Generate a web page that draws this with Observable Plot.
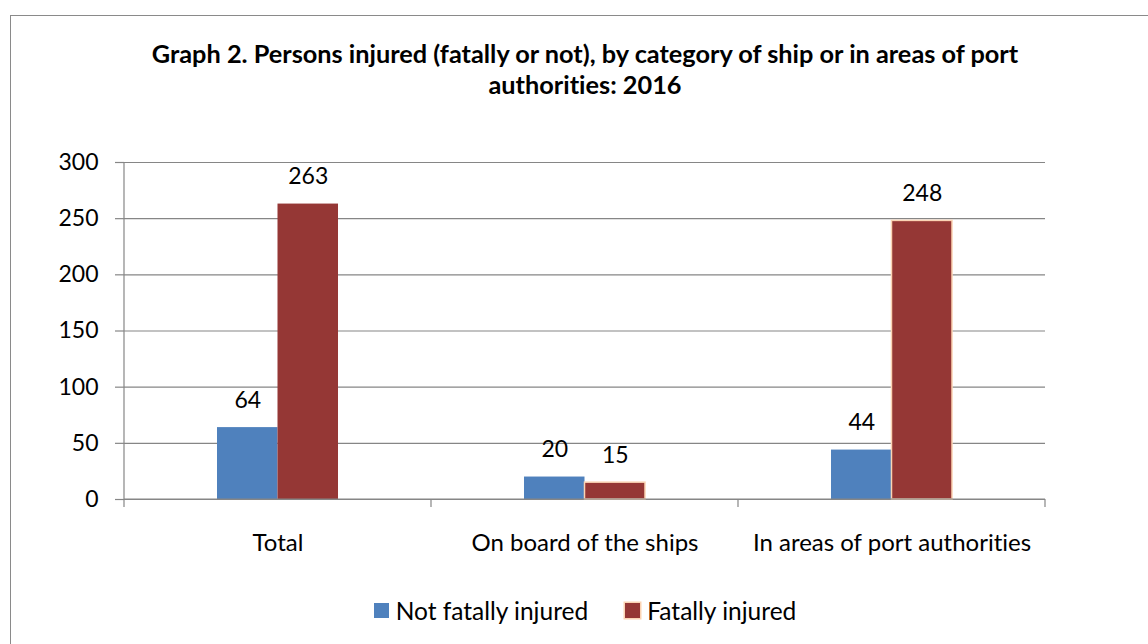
<!DOCTYPE html>
<html>
<head>
<meta charset="utf-8">
<script src="https://cdn.jsdelivr.net/npm/d3@7"></script>
<script src="https://cdn.jsdelivr.net/npm/@observablehq/plot@0.6"></script>
<style>
  html, body { margin: 0; padding: 0; background: #fff; }
  body { width: 1148px; height: 644px; overflow: hidden; position: relative; font-family: Lato, "Open Sans", sans-serif; color: #000; font-variant-ligatures: none; }
  #frame { position: absolute; left: 10px; top: 15px; width: 1200px; height: 700px; border: 1.5px solid #8a8a8a; box-sizing: border-box; }
  #title { position: absolute; left: 10px; width: 1150px; top: 38px; text-align: center; font-weight: bold; font-size: 25.3px; line-height: 31px; }
  #chart { position: absolute; left: 0; top: 120px; }
  #chart svg { font-variant-ligatures: none; }
  #legend { position: absolute; left: 10px; width: 1150px; top: 596px; display: flex; justify-content: center; align-items: center; font-size: 24.5px; }
  .item { display: flex; align-items: center; }
  .sw { width: 15px; height: 15px; margin-right: 7px; box-sizing: border-box; }
</style>
</head>
<body>
<div id="frame"></div>
<div id="title">Graph 2. Persons injured (fatally or not), by category of ship or in areas of port<br>authorities: 2016</div>
<div id="chart"></div>
<div id="legend"></div>
<script>
const categories = ["Total", "On board of the ships", "In areas of port authorities"];
const series = ["Not fatally injured", "Fatally injured"];
const notFatal = [64, 20, 44];
const fatal = [263, 15, 248];
const yTicks = [0, 50, 100, 150, 200, 250, 300];
const colors = ["#4F81BD", "#953735"];
const outline = "#FBD4B4";

const data = categories.flatMap((c, i) => [
  {category: c, series: series[0], value: notFatal[i]},
  {category: c, series: series[1], value: fatal[i]}
]);

const axisColor = "#868686";

const skeleton = Plot.frame({
  facet: "super",
  stroke: "none",
  render: (index, scales, values, dims) => {
    const y = scales.y;
    let edges;
    if (scales.fx) {
      const fx = scales.fx;
      edges = categories.map(c => fx(c));
      edges.push(fx(categories[categories.length - 1]) + fx.bandwidth());
    } else {
      const w = (dims.width - dims.marginLeft - dims.marginRight) / categories.length;
      edges = d3.range(categories.length + 1).map(i => dims.marginLeft + i * w);
    }
    const y0 = y ? y(0) : dims.height - dims.marginBottom;
    const y1 = y ? y(yTicks[yTicks.length - 1]) : dims.marginTop;
    const g = d3.create("svg:g").attr("stroke", axisColor).attr("stroke-width", 1.2).attr("fill", "none");
    g.append("line").attr("x1", edges[0]).attr("x2", edges[0]).attr("y1", y1).attr("y2", y0 + 8);
    g.append("line").attr("x1", edges[0]).attr("x2", edges[edges.length - 1]).attr("y1", y0).attr("y2", y0);
    for (const e of edges.slice(1)) {
      g.append("line").attr("x1", e).attr("x2", e).attr("y1", y0).attr("y2", y0 + 8);
    }
    return g.node();
  }
});

const chart = Plot.plot({
  width: 1148,
  height: 460,
  marginTop: 42,
  marginBottom: 81,
  marginLeft: 124,
  marginRight: 103,
  style: {fontFamily: "Lato, 'Open Sans', sans-serif", fontSize: "23px", color: "#000", background: "transparent", overflow: "visible"},
  fx: {domain: categories, paddingInner: 0, paddingOuter: 0, round: false, axis: null, label: null},
  x: {domain: series, paddingInner: 0, paddingOuter: 1.537, round: false, axis: null},
  y: {domain: [0, 300], label: null, axis: null},
  color: {domain: series, range: colors},
  marks: [
    Plot.gridY(yTicks, {stroke: axisColor, strokeOpacity: 1, strokeWidth: 1.2}),
    Plot.axisY(yTicks, {tickSize: 9, tickPadding: 17, stroke: axisColor, strokeWidth: 1.2, fontSize: 23, label: null, textStroke: "none"}),
    Plot.barY(data, {
      fx: "category", x: "series", y: "value", fill: "series",
      stroke: d => (d.series === series[1] && d.category !== categories[0]) ? outline : "none",
      strokeWidth: 1.5
    }),
    skeleton,
    Plot.text(data, {fx: "category", x: "series", y: "value", text: d => String(d.value), dy: -27, lineAnchor: "middle", fontSize: 23, fill: "#000"}),
    Plot.text(categories, {fx: d => d, text: d => d, frameAnchor: "bottom", dy: 44, lineAnchor: "middle", fontSize: 24, fill: "#000"})
  ]
});
document.getElementById("chart").appendChild(chart);

const legend = document.getElementById("legend");
series.forEach((s, i) => {
  const item = document.createElement("div");
  item.className = "item";
  if (i > 0) item.style.marginLeft = "37px";
  const sw = document.createElement("div");
  sw.className = "sw";
  sw.style.background = colors[i];
  if (i === 1) sw.style.boxShadow = "0 0 0 1.5px " + outline;
  const t = document.createElement("span");
  t.textContent = s;
  item.appendChild(sw);
  item.appendChild(t);
  legend.appendChild(item);
});
</script>
</body>
</html>
